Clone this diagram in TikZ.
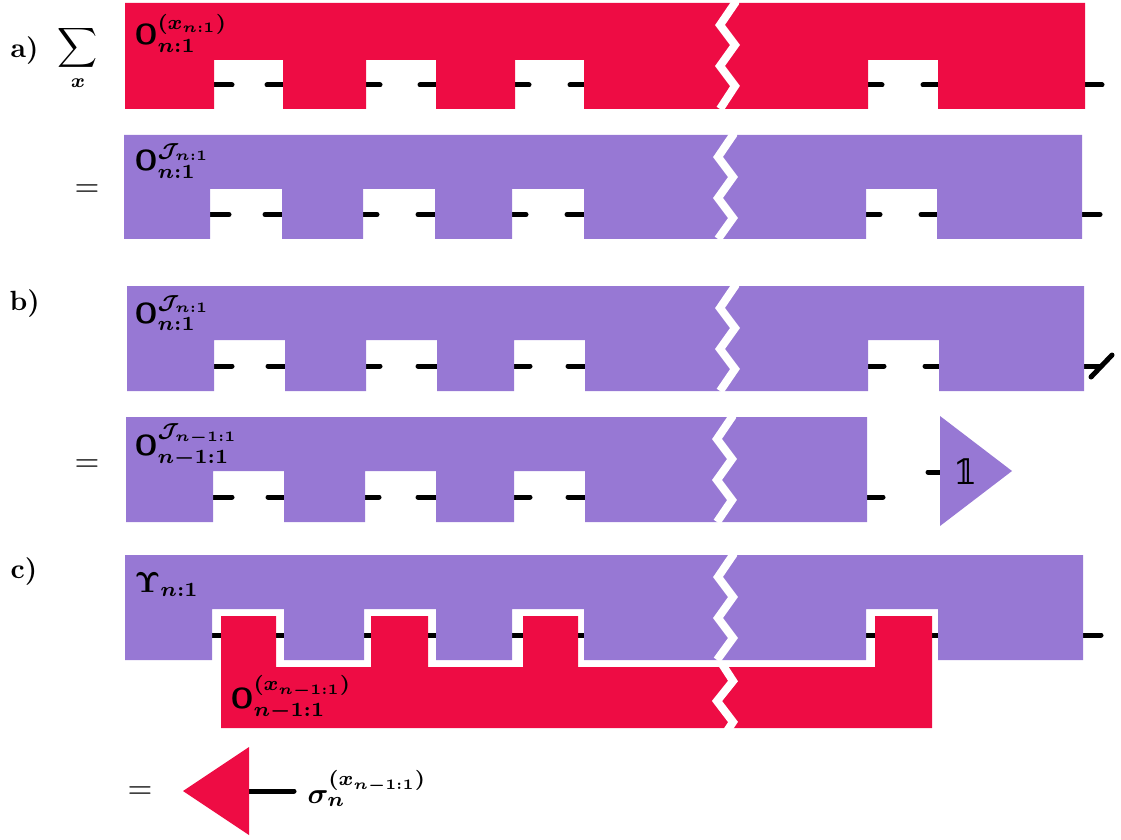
\documentclass[tikz,border=0pt]{standalone}
\usepackage{amsmath}
\usepackage{amssymb}
\usepackage[no-math]{fontspec}
\usepackage{tikz}
\newfontfamily\onefont{DejaVu Serif}
\definecolor{combred}{RGB}{238,12,68}
\definecolor{combpurple}{RGB}{151,120,212}
\tikzset{
  combr/.style={fill=combred,draw=none},
  combp/.style={fill=combpurple,draw=none},
  leg/.style={line width=1.8pt,line cap=round},
  brk/.style={draw=white,line width=2.9pt,miter limit=10},
  lab/.style={anchor=base west,inner sep=0pt,font=\boldmath,scale=1.04},
  tag/.style={anchor=base west,inner sep=0pt,font=\bfseries},
  eqs/.style={inner sep=0pt,scale=1.15}
}

\begin{document}
\begin{tikzpicture}[x=.36pt,y=-.36pt]
\useasboundingbox (0,0) rectangle (1121,839);
% a) top row
\foreach \xa/\xb in {200/232,267/300,350/380,420/449,500/529,570/600,850/882,923/950,1070/1102} \draw[leg] (\xa,85) -- (\xb,85);
\fill[combr] (125,3) -- (1085,3) -- (1085,109) -- (938,109) -- (938,60) -- (868,60) -- (868,109) -- (584,109) -- (584,60) -- (515,60) -- (515,109) -- (436,109) -- (436,60) -- (366,60) -- (366,109) -- (283,109) -- (283,60) -- (214,60) -- (214,109) -- (125,109) -- cycle;
\draw[brk] (735,0) -- (735,3) -- (720,25) -- (735,45) -- (720,66) -- (735,86) -- (720,109);
\node[tag] (laba) at (10,58) {a)};
\node[inner sep=0pt] (sumx) at (78,58) {$\displaystyle\sum_{\boldsymbol{x}}$};
\node[lab] (oa) at (134,45) {$\mathsf{O}_{n:1}^{(x_{n:1})}$};
% a) second row
\foreach \xa/\xb in {200/229,265/295,350/377,418/449,500/526,567/600,850/880,921/950,1070/1100} \draw[leg] (\xa,214.5) -- (\xb,214.5);
\fill[combp] (124,135) -- (1082,135) -- (1082,239) -- (937,239) -- (937,189) -- (866,189) -- (866,239) -- (584,239) -- (584,189) -- (512,189) -- (512,239) -- (435,239) -- (435,189) -- (363,189) -- (363,239) -- (282,239) -- (282,189) -- (210,189) -- (210,239) -- (124,239) -- cycle;
\draw[brk] (733,132) -- (733,135) -- (718,157) -- (733,177) -- (718,198) -- (733,218) -- (718,239);
\node[eqs] (eqa) at (87,191) {$=$};
\node[lab] (ob) at (134,171) {$\mathsf{O}_{n:1}^{\mathcal{J}_{n:1}}$};
% b) first row
\foreach \xa/\xb in {200/232,268/300,350/380,418/450,500/530,568/600,850/884,925/950,1070/1100} \draw[leg] (\xa,366) -- (\xb,366);
\draw[leg] (1091,377) -- (1112,355);
\fill[combp] (127,286) -- (1084,286) -- (1084,391) -- (939,391) -- (939,340) -- (868,340) -- (868,391) -- (585,391) -- (585,340) -- (514,340) -- (514,391) -- (437,391) -- (437,340) -- (366,340) -- (366,391) -- (285,391) -- (285,340) -- (214,340) -- (214,391) -- (127,391) -- cycle;
\draw[brk] (735,283) -- (735,286) -- (720,308) -- (735,328) -- (720,349) -- (735,369) -- (720,391);
\node[tag] (labb) at (9,310) {b)};
\node[lab] (oc) at (134,323) {$\mathsf{O}_{n:1}^{\mathcal{J}_{n:1}}$};
% b) second row
\foreach \xa/\xb in {200/232,268/300,350/379,418/450,500/530,568/600,850/883} \draw[leg] (\xa,497) -- (\xb,497);
\draw[leg] (928,472) -- (950,472);
\fill[combp] (126,417) -- (867,417) -- (867,522) -- (585,522) -- (585,471) -- (514,471) -- (514,522) -- (436,522) -- (436,471) -- (365,471) -- (365,522) -- (284,522) -- (284,471) -- (213,471) -- (213,522) -- (126,522) -- cycle;
\draw[brk] (732,414) -- (732,417) -- (717,439) -- (732,459) -- (717,480) -- (732,500) -- (717,522);
\fill[combp] (940,416) -- (1012,471) -- (940,526) -- cycle;
\node[eqs] (eqb) at (87,466) {$=$};
\node[lab] (od) at (134,455) {$\mathsf{O}_{n-1:1}^{\mathcal{J}_{n-1:1}}$};
\node[inner sep=0pt,font=\onefont,scale=1.25] (one) at (966,472) {^^^^^1d7d9};
% c) purple row
\foreach \xa/\xb in {200/300,350/450,500/600,850/950,1070/1101} \draw[leg] (\xa,635) -- (\xb,635);
\fill[combp] (125,555) -- (1083,555) -- (1083,660) -- (938,660) -- (938,609) -- (866,609) -- (866,660) -- (584,660) -- (584,609) -- (512,609) -- (512,660) -- (436,660) -- (436,609) -- (364,609) -- (364,660) -- (284,660) -- (284,609) -- (212,609) -- (212,660) -- (125,660) -- cycle;
\draw[brk] (733,552) -- (733,555) -- (718,577) -- (733,597) -- (718,618) -- (733,638) -- (717,660);
\node[tag] (labc) at (10,578) {c)};
\node[lab] (ups) at (134,592) {$\Upsilon_{n:1}$};
% c) red row
\fill[combr] (221,616) -- (276,616) -- (276,667) -- (371,667) -- (371,616) -- (428,616) -- (428,667) -- (523,667) -- (523,616) -- (578,616) -- (578,667) -- (875,667) -- (875,616) -- (932,616) -- (932,728) -- (221,728) -- cycle;
\draw[brk] (722,664) -- (733,681) -- (717,701) -- (733,722) -- (727,731);
\node[lab] (oe) at (230,708) {$\mathsf{O}_{n-1:1}^{(x_{n-1:1})}$};
% last row
\draw[leg] (240,791) -- (294,791);
\fill[combr] (249,747) -- (249,835) -- (183,791) -- cycle;
\node[eqs] (eqc) at (140,793) {$=$};
\node[lab] (sig) at (307,803) {$\sigma_{n}^{(x_{n-1:1})}$};
\end{tikzpicture}
\end{document}
